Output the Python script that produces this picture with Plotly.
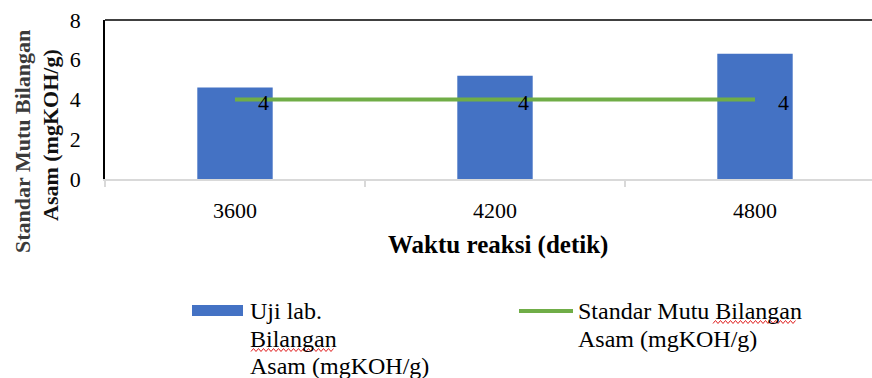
import plotly.graph_objects as go

# Data
waktu = ["3600", "4200", "4800"]
uji_lab = [4.6, 5.2, 6.3]
standar_mutu = [4, 4, 4]
y_ticks = [0, 2, 4, 6, 8]

W, H = 872, 378
L, T, B = 105, 20, 199
PW, PH = W - L, H - T - B

def px(x):
    return (x - L) / PW

def py(y):
    return (H - B - y) / PH

FONT = "Liberation Serif"
BLUE = "#4472C4"
GREEN = "#70AD47"

xs = list(range(len(waktu)))

fig = go.Figure()
fig.add_trace(go.Bar(
    x=xs, y=uji_lab, width=0.29, marker=dict(color=BLUE, line=dict(width=0)),
    name="Uji lab. Bilangan Asam (mgKOH/g)", showlegend=False,
))
fig.add_trace(go.Scatter(
    x=xs, y=standar_mutu, mode="lines",
    line=dict(color=GREEN, width=4),
    name="Standar Mutu Bilangan Asam (mgKOH/g)", showlegend=False,
))

# value labels on the standard line
for xi, v in zip(xs, standar_mutu):
    fig.add_annotation(x=xi, y=v, text=str(v), showarrow=False,
                       xanchor="left", yanchor="middle", xshift=21, yshift=-3,
                       font=dict(family=FONT, size=22, color="#000"))

# top frame line
fig.add_shape(type="line", xref="paper", yref="paper", x0=0, x1=1, y0=1, y1=1,
              line=dict(color="#000", width=1.5))

def text_at(x, y, s, size, color="#000", angle=0, xanchor="left"):
    fig.add_annotation(xref="paper", yref="paper", x=px(x), y=py(y), text=s,
                       showarrow=False, textangle=angle, xanchor=xanchor,
                       yanchor="middle", font=dict(family=FONT, size=size, color=color))

# axis titles
text_at(498, 245, "<b>Waktu reaksi (detik)</b>", 25, xanchor="center")
text_at(22, 142, "<b>Standar Mutu Bilangan</b>", 22, color="#3a3a3a", angle=-90, xanchor="center")
text_at(50, 135, "<b>Asam (mgKOH/g)</b>", 22, color="#111", angle=-90, xanchor="center")

# legend
fig.add_shape(type="rect", xref="paper", yref="paper",
              x0=px(192), x1=px(243), y0=py(305), y1=py(316),
              fillcolor=BLUE, line=dict(width=0))
for s, y in [("Uji lab.", 311), ("Bilangan", 339), ("Asam (mgKOH/g)", 366)]:
    text_at(248, y, s, 24)
fig.add_shape(type="line", xref="paper", yref="paper",
              x0=px(519), x1=px(573), y0=py(311), y1=py(311),
              line=dict(color=GREEN, width=4))
for s, y in [("Standar Mutu Bilangan", 311), ("Asam (mgKOH/g)", 339)]:
    text_at(576, y, s, 24)

# spell-check squiggles under "Bilangan"
def squiggle(x0, x1, y):
    pts = []
    x = x0
    up = True
    while x <= x1:
        pts.append(f"{x},{y - 1.5 if up else y + 1.5}")
        x += 2.5
        up = not up
    return "M" + " L".join(pts)

for (sx0, sx1, sy) in [(251, 334, 350), (713, 797, 322)]:
    fig.add_shape(type="path", xref="paper", yref="paper",
                  xsizemode="pixel", ysizemode="pixel",
                  xanchor=0, yanchor=1,
                  path=squiggle(sx0 - L, sx1 - L, -(sy - T)),
                  line=dict(color="#E02020", width=1))

fig.update_layout(
    width=W, height=H,
    margin=dict(l=L, r=0, t=T, b=B),
    paper_bgcolor="white", plot_bgcolor="white",
    xaxis=dict(
        range=[-0.5, -0.5 + PW / 260], tickvals=xs, ticktext=waktu,
        showgrid=False, zeroline=False, showline=True,
        linecolor="#D9D9D9", linewidth=1.5, ticks="",
        ticklabelstandoff=11,
        tickfont=dict(family=FONT, size=22, color="#000"),
        minor=dict(tickvals=[-0.5, 0.5, 1.5], ticks="outside", ticklen=6,
                   tickcolor="#D9D9D9", tickwidth=1.5),
    ),
    yaxis=dict(
        range=[0, 8], tickvals=y_ticks, showgrid=False, zeroline=False,
        showline=True, linecolor="#000", linewidth=1.5, ticks="",
        ticklabelstandoff=18,
        tickfont=dict(family=FONT, size=22, color="#000"),
    ),
)

fig.write_html("out.html")
